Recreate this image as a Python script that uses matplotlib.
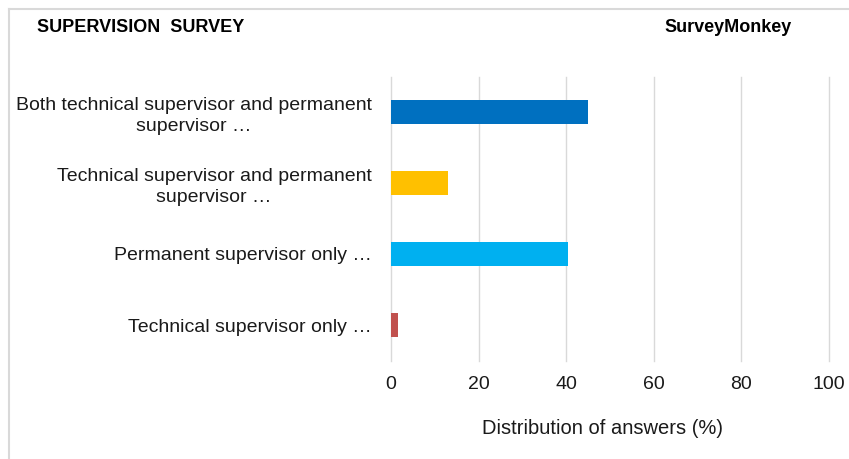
import matplotlib.pyplot as plt
from matplotlib.lines import Line2D

plt.rcParams['font.family'] = ['Liberation Sans', 'DejaVu Sans']

# data
categories = ['Both technical supervisor and permanent\nsupervisor \u2026',
              'Technical supervisor and permanent\nsupervisor \u2026',
              'Permanent supervisor only \u2026',
              'Technical supervisor only \u2026']
values = [45, 13, 40.4, 1.5]
colors = ['#0070C0', '#FFC000', '#00B0F0', '#C0504D']
xticks = [0, 20, 40, 60, 80, 100]

W, H = 849, 459
fig = plt.figure(figsize=(W / 100, H / 100), dpi=100)
ax = fig.add_axes([391 / W, 1 - 360.5 / H, (829 - 391) / W, (360.5 - 76.5) / H])

ypos = list(range(len(categories)))
ax.barh(ypos, values, height=0.35, color=colors, zorder=3)
ax.set_ylim(len(categories) - 0.5, -0.5)
ax.set_xlim(0, 100)
ax.set_xticks(xticks)
ax.set_xticklabels([str(t) for t in xticks], fontsize=14, color='#1a1a1a')
ax.set_yticks(ypos)
ax.set_yticklabels(categories, fontsize=14, color='#1a1a1a', multialignment='center',
                   linespacing=1.3)
ax.tick_params(axis='both', length=0)
ax.tick_params(axis='x', pad=11)
ax.tick_params(axis='y', pad=14)
ax.grid(axis='x', color='#d9d9d9', linewidth=1, zorder=0)
for gl in ax.xaxis.get_gridlines():
    gl.set_clip_on(False)
for s in ax.spines.values():
    s.set_visible(False)

fig.text(603 / W, 1 - 428 / H, 'Distribution of answers (%)', fontsize=14.5,
         ha='center', va='center', color='#1a1a1a')

# header
fig.text(37 / W, 1 - 27 / H, 'SUPERVISION  SURVEY', fontsize=13, fontweight='bold',
         ha='left', va='center')
fig.text(792 / W, 1 - 27 / H, 'SurveyMonkey', fontsize=13, fontweight='bold',
         ha='right', va='center')

# frame (top and left edges)
fig.add_artist(Line2D([8.5 / W, 8.5 / W], [0, 1 - 8.5 / H], color='#d9d9d9', lw=1.5,
                      transform=fig.transFigure))
fig.add_artist(Line2D([8.5 / W, 1], [1 - 8.5 / H, 1 - 8.5 / H], color='#d9d9d9', lw=1.5,
                      transform=fig.transFigure))

fig.savefig('out.png', dpi=100)
